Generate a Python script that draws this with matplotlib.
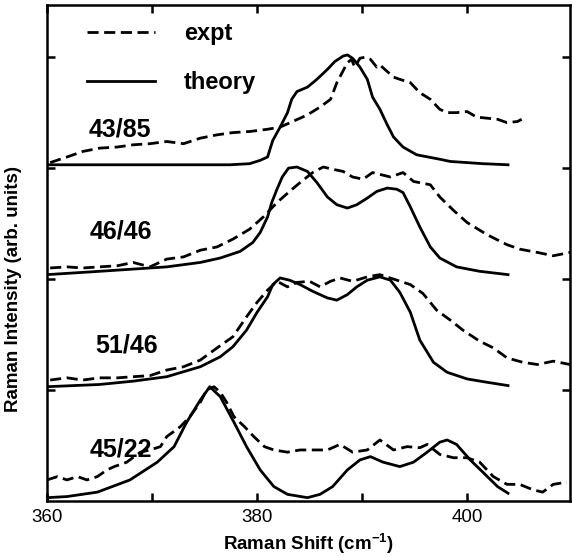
import matplotlib.pyplot as plt

plt.rcParams['font.family'] = ['Liberation Sans', 'DejaVu Sans']
plt.rcParams['mathtext.fontset'] = 'custom'
plt.rcParams['mathtext.rm'] = 'Liberation Sans:bold'
plt.rcParams['mathtext.default'] = 'rm'

# sample labels, top to bottom
samples = ['43/85', '46/46', '51/46', '45/22']

# 43/85 - theory
th1_x = [360.0, 377.4, 379.3, 380.3, 381.0, 381.5, 382.2, 382.9, 383.3, 383.8, 384.8, 385.7,
         386.7, 387.4, 388.2, 388.6, 389.1, 389.8, 390.5, 391.0, 391.7, 392.4, 393.0, 393.9,
         395.2, 397.4, 398.4, 401.5, 403.9]
th1_y = [0.00, 0.00, 0.01, 0.04, 0.07, 0.22, 0.34, 0.47, 0.59, 0.66, 0.70, 0.77,
         0.86, 0.93, 0.98, 0.99, 0.96, 0.88, 0.77, 0.61, 0.50, 0.36, 0.25, 0.16,
         0.09, 0.05, 0.03, 0.01, 0.00]
# 43/85 - expt
ex1_x = [360.3, 361.9, 363.4, 365.0, 366.7, 368.2, 369.8, 371.4, 373.0, 374.6, 376.2, 377.7,
         379.3, 381.0, 382.2, 383.4, 384.8, 386.0, 387.0, 387.6, 388.1, 388.6, 389.0, 389.3,
         389.8, 390.3, 390.8, 391.4, 391.7, 392.4, 393.0, 393.6, 394.6, 395.5, 396.5, 397.4,
         398.1, 399.0, 400.0, 400.9, 401.9, 402.9, 403.8, 404.8, 405.2]
ex1_y = [0.02, 0.07, 0.12, 0.15, 0.16, 0.18, 0.19, 0.21, 0.19, 0.24, 0.27, 0.29,
         0.30, 0.32, 0.34, 0.39, 0.45, 0.52, 0.59, 0.74, 0.83, 0.92, 0.95, 0.88,
         0.96, 0.97, 0.95, 0.88, 0.90, 0.84, 0.79, 0.77, 0.74, 0.65, 0.59, 0.50,
         0.47, 0.47, 0.48, 0.43, 0.42, 0.41, 0.38, 0.39, 0.41]

# 46/46 - theory
th2_x = [360.0, 365.0, 371.4, 374.6, 376.5, 378.4, 379.6, 380.3, 381.0, 381.4, 381.9, 382.4,
         383.0, 383.8, 384.8, 385.7, 386.7, 387.6, 388.6, 389.5, 390.5, 391.4, 392.4, 393.3,
         393.9, 394.6, 395.5, 396.5, 397.4, 399.0, 401.2, 403.9]
th2_y = [0.00, 0.03, 0.07, 0.11, 0.15, 0.21, 0.29, 0.38, 0.52, 0.65, 0.77, 0.88,
         0.96, 0.97, 0.93, 0.83, 0.70, 0.63, 0.60, 0.63, 0.69, 0.75, 0.78, 0.77,
         0.74, 0.61, 0.43, 0.25, 0.15, 0.07, 0.03, 0.00]
# 46/46 - expt
ex2_x = [360.3, 361.9, 363.4, 365.0, 366.7, 368.2, 369.8, 371.4, 373.0, 374.6, 376.2, 377.7,
         379.3, 380.6, 381.9, 383.1, 384.1, 385.3, 386.3, 387.2, 388.2, 389.1, 390.1, 391.0,
         392.7, 393.9, 394.9, 396.5, 397.4, 398.7, 400.0, 401.9, 403.8, 405.0, 406.7, 408.2,
         409.8]
ex2_y = [0.06, 0.07, 0.06, 0.07, 0.08, 0.11, 0.07, 0.14, 0.16, 0.22, 0.25, 0.32,
         0.41, 0.52, 0.65, 0.75, 0.83, 0.92, 0.97, 0.95, 0.93, 0.88, 0.86, 0.92,
         0.88, 0.92, 0.84, 0.81, 0.70, 0.58, 0.47, 0.36, 0.27, 0.23, 0.20, 0.17,
         0.20]

# 51/46 - theory
th3_x = [360.0, 365.0, 368.2, 371.4, 374.6, 376.5, 377.7, 379.0, 380.0, 381.0, 381.5, 382.2,
         383.1, 384.1, 385.3, 386.7, 387.6, 388.6, 389.5, 390.5, 391.7, 392.7, 393.6, 394.6,
         395.5, 396.8, 398.1, 400.0, 401.9, 403.9]
th3_y = [0.00, 0.02, 0.05, 0.09, 0.18, 0.27, 0.36, 0.51, 0.67, 0.81, 0.92, 0.98,
         0.96, 0.92, 0.86, 0.80, 0.78, 0.83, 0.90, 0.96, 0.99, 0.96, 0.85, 0.67,
         0.42, 0.22, 0.13, 0.07, 0.04, 0.01]
# 51/46 - expt
ex3_x = [360.3, 361.9, 363.4, 365.0, 366.7, 368.2, 369.8, 371.4, 373.0, 374.6, 376.2, 377.7,
         379.0, 380.0, 381.0, 381.9, 382.9, 383.8, 385.0, 386.0, 387.0, 387.9, 389.1, 390.5,
         391.7, 393.0, 394.6, 395.8, 397.1, 398.4, 399.6, 401.2, 402.5, 403.8, 405.3, 406.7,
         408.2, 409.8]
ex3_y = [0.06, 0.08, 0.06, 0.08, 0.08, 0.09, 0.10, 0.15, 0.18, 0.24, 0.35, 0.45,
         0.63, 0.76, 0.87, 0.95, 0.90, 0.94, 0.95, 0.90, 0.95, 0.98, 0.95, 0.99,
         1.01, 0.97, 0.92, 0.84, 0.69, 0.60, 0.51, 0.41, 0.35, 0.26, 0.22, 0.20,
         0.23, 0.20]

# 45/22 - theory
th4_x = [360.0, 361.9, 364.8, 367.9, 370.5, 372.1, 373.3, 374.6, 375.5, 376.5, 377.8, 379.0,
         380.3, 381.6, 382.9, 384.8, 386.0, 387.2, 388.6, 389.8, 390.8, 392.0, 393.6, 394.9,
         396.2, 397.4, 398.1, 399.0, 400.3, 401.5, 402.9, 403.9]
th4_y = [0.00, 0.01, 0.05, 0.16, 0.32, 0.46, 0.68, 0.88, 1.00, 0.91, 0.68, 0.46,
         0.25, 0.10, 0.03, 0.00, 0.03, 0.10, 0.25, 0.34, 0.37, 0.32, 0.28, 0.32,
         0.41, 0.50, 0.52, 0.48, 0.34, 0.23, 0.10, 0.04]
# 45/22 - expt
ex4_x = [360.0, 361.0, 361.9, 362.9, 363.8, 364.8, 365.7, 366.4, 367.6, 368.3, 368.9, 369.8,
         370.8, 371.4, 372.7, 373.6, 374.6, 375.2, 375.9, 376.5, 377.1, 377.8, 378.8, 379.7,
         380.7, 381.6, 382.9, 384.1, 385.3, 386.7, 387.9, 389.1, 390.5, 391.7, 393.0, 394.3,
         395.5, 396.2, 397.4, 398.7, 400.0, 401.2, 402.5, 403.8, 405.0, 406.3, 407.2, 408.2,
         409.5]
ex4_y = [0.16, 0.19, 0.16, 0.19, 0.16, 0.19, 0.25, 0.28, 0.32, 0.37, 0.41, 0.43,
         0.46, 0.55, 0.64, 0.73, 0.86, 0.97, 1.00, 0.95, 0.86, 0.73, 0.64, 0.55,
         0.46, 0.43, 0.41, 0.43, 0.43, 0.43, 0.48, 0.41, 0.43, 0.52, 0.43, 0.46,
         0.45, 0.48, 0.39, 0.36, 0.36, 0.32, 0.19, 0.12, 0.12, 0.07, 0.05, 0.12,
         0.14]

theory = [(th1_x, th1_y), (th2_x, th2_y), (th3_x, th3_y), (th4_x, th4_y)]
expt = [(ex1_x, ex1_y), (ex2_x, ex2_y), (ex3_x, ex3_y), (ex4_x, ex4_y)]

# vertical offset of each trace and where its label sits
offsets = [3.03, 2.04, 1.03, 0.03]
label_pos = [(366.9, 0.32), (367.0, 0.39), (367.6, 0.375), (367.0, 0.43)]

fig = plt.figure(figsize=(5.72, 5.56), dpi=100)
ax = fig.add_axes([47 / 572, 1 - 501 / 556, 523 / 572, 496 / 556])

dash = (0, (4, 2))
for i in range(4):
    tx, ty = theory[i]
    ex, ey = expt[i]
    ax.plot(ex, [v + offsets[i] for v in ey], color='black', lw=2.0, linestyle=dash,
            label='expt' if i == 0 else None)
    ax.plot(tx, [v + offsets[i] for v in ty], color='black', lw=2.0,
            label='theory' if i == 0 else None)
    lx, ly = label_pos[i]
    ax.text(lx, ly + offsets[i], samples[i], fontsize=18, fontweight='bold',
            ha='center', va='center')

ax.set_xlim(360, 409.8)
ax.set_ylim(0, 4.47)
ax.set_xticks([360, 370, 380, 390, 400])
ax.set_xticklabels(['360', '', '380', '', '400'], fontsize=13.5)
ax.set_yticks([1, 2, 3, 4])
ax.set_yticklabels([])
ax.tick_params(direction='in', top=True, right=True, length=6, width=1.8, pad=6)
for s in ax.spines.values():
    s.set_linewidth(1.8)

ax.set_xlabel('Raman Shift (cm$^{-1}$)', fontsize=13.5, fontweight='bold', labelpad=4)
ax.set_ylabel('Raman Intensity (arb. units)', fontsize=13.5, fontweight='bold')
ax.yaxis.set_label_coords(-0.048, 0.427)

ax.legend(loc='upper left', bbox_to_anchor=(0.0765, 0.966), frameon=False,
          prop={'size': 17, 'weight': 'bold'}, handlelength=2.9, handletextpad=1.2,
          labelspacing=1.1, borderpad=0, borderaxespad=0)

fig.savefig('out.png', dpi=100)
